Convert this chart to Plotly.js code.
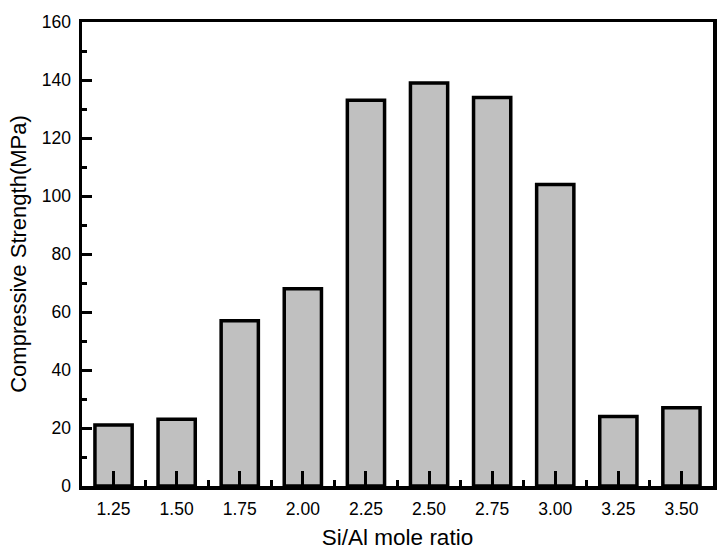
<!DOCTYPE html>
<html>
<head>
<meta charset="utf-8">
<script src="https://cdn.plot.ly/plotly-3.0.1.min.js"></script>
<style>html,body{margin:0;padding:0;background:#fff}#chart{width:723px;height:555px}</style>
</head>
<body>
<div id="chart"></div>
<script>
const ratios = [1.25, 1.50, 1.75, 2.00, 2.25, 2.50, 2.75, 3.00, 3.25, 3.50];
const strength = [21, 23, 57, 68, 133, 139, 134, 104, 24, 27];
const minorX = [1.375, 1.625, 1.875, 2.125, 2.375, 2.625, 2.875, 3.125, 3.375];
const xTitle = "Si/Al mole ratio";
const yTitle = "Compressive Strength(MPa)";

const trace = {
  type: "bar",
  x: ratios,
  y: strength,
  marker: { color: "#c0c0c0", line: { color: "#000", width: 3.5 } },
  hoverinfo: "x+y"
};

const FAM = "Liberation Sans";

const layout = {
  width: 723, height: 555,
  margin: { l: 82, r: 10, t: 22, b: 69 },
  paper_bgcolor: "#fff", plot_bgcolor: "#fff",
  showlegend: false,
  bargap: 0.41,
  font: { family: FAM, size: 17.5, color: "#000" },
  xaxis: {
    range: [1.125, 3.625],
    tickmode: "array", tickvals: ratios,
    ticktext: ratios.map(v => v.toFixed(2)),
    ticks: "inside", ticklen: 15, tickwidth: 3, tickcolor: "#000",
    minor: { tickmode: "array", tickvals: minorX, ticks: "inside", ticklen: 6, tickwidth: 3, tickcolor: "#000" },
    showline: true, linewidth: 3.5, linecolor: "#000", mirror: true,
    showgrid: false, zeroline: false, layer: "above traces",
    tickfont: { family: FAM, size: 17.5, color: "#000" },
    ticklabelstandoff: 4,
    title: { text: xTitle, font: { family: FAM, size: 22.5, color: "#000" }, standoff: 12 }
  },
  yaxis: {
    range: [0, 160],
    tickmode: "linear", tick0: 0, dtick: 20,
    ticks: "inside", ticklen: 10, tickwidth: 3, tickcolor: "#000",
    minor: { dtick: 10, ticks: "inside", ticklen: 5, tickwidth: 3, tickcolor: "#000" },
    showline: true, linewidth: 3.5, linecolor: "#000", mirror: true,
    showgrid: false, zeroline: false, layer: "above traces",
    tickfont: { family: FAM, size: 17.5, color: "#000" },
    ticklabelstandoff: 4,
    title: { text: yTitle, font: { family: FAM, size: 22, color: "#000" }, standoff: 10 }
  }
};

Plotly.newPlot("chart", [trace], layout, { displayModeBar: false, staticPlot: true });
</script>
</body>
</html>
